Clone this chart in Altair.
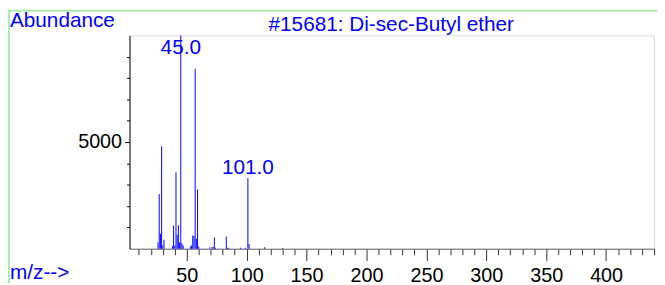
import altair as alt
import pandas as pd

# ---- data ----
mz = [26, 27, 28, 29, 30, 31, 38, 39, 40, 41, 42, 43, 44, 45, 46, 47,
      53, 54, 55, 56, 57, 58, 59, 60, 69, 71, 72, 73, 74, 83, 84, 85,
      95, 99, 101, 102, 115, 130]
abundance = [300, 2560, 700, 4800, 150, 420, 120, 1080, 150, 3580, 650, 1100, 300, 9999, 250, 150,
             100, 160, 620, 600, 8430, 460, 2780, 100, 60, 80, 80, 530, 40, 570, 40, 40,
             50, 40, 3310, 220, 70, 30]

label_mz = [45, 101]
label_pos = [9130, 3500]
label_text = ["45.0", "101.0"]

title_text = "#15681: Di-sec-Butyl ether"
y_title = "Abundance"
x_title = "m/z-->"

x_ticks = list(range(10, 441, 10))
x_major_step = 50
y_ticks = [1000, 2000, 3000, 4000, 5000, 6000, 7000, 8000, 9000]
y_major_step = 5000

FONT = "Liberation Sans"
BLUE = "#0000ff"
GREEN = "#a8eea8"

peaks = pd.DataFrame({"mz": mz, "ab": abundance})
labels = pd.DataFrame({"mz": label_mz, "ab": label_pos, "t": label_text})

xscale = alt.Scale(domain=[2.2, 440], nice=False, zero=False)
yscale = alt.Scale(domain=[0, 10000], nice=False)

x_major_test = f"datum.value % {x_major_step} === 0"
y_major_test = f"datum.value % {y_major_step} === 0"

x_axis = alt.Axis(
    values=x_ticks, tickCount=200, orient="bottom",
    tickSize={"condition": {"test": x_major_test, "value": 12}, "value": 6},
    labelExpr=f"{x_major_test} ? datum.label : ''",
    labelOverlap=False, labelPadding=5,
    labelFontSize=20, labelFont=FONT, labelColor="black",
    domainColor="#666666", tickColor="#333333", grid=False,
    title=None, format="d", labelFlush=False)
y_axis = alt.Axis(
    values=y_ticks, tickCount=200, orient="left",
    tickSize={"condition": {"test": y_major_test, "value": 5}, "value": 3},
    labelExpr=f"{y_major_test} ? datum.label : ''",
    labelOverlap=False, labelPadding=3,
    labelFontSize=20, labelFont=FONT, labelColor="black",
    domainColor="#000000", tickColor="#000000", grid=False,
    title=None, format="d")

bars = alt.Chart(peaks).mark_rule(color=BLUE, strokeWidth=1).encode(
    x=alt.X("mz:Q", scale=xscale, axis=x_axis),
    y=alt.Y("ab:Q", scale=yscale, axis=y_axis),
    y2=alt.datum(0),
)

peak_labels = alt.Chart(labels).mark_text(
    color=BLUE, font=FONT, fontSize=21, align="center", baseline="alphabetic"
).encode(
    x=alt.X("mz:Q", scale=xscale),
    y=alt.Y("ab:Q", scale=yscale),
    text="t:N",
)

def txt(s, x, y, align="left", size=21):
    return alt.Chart(pd.DataFrame({"t": [s]})).mark_text(
        color=BLUE, font=FONT, fontSize=size, align=align, baseline="alphabetic"
    ).encode(x=alt.value(x), y=alt.value(y), text="t:N")

title_mark = txt(title_text, 265, -4.5, align="center")
ytitle_mark = txt(y_title, -121, -8)
xtitle_mark = txt(x_title, -121, 247)

one = pd.DataFrame({"a": [0]})
green_top = alt.Chart(one).mark_rule(color=GREEN, strokeWidth=2).encode(
    x=alt.value(-123), x2=alt.value(534), y=alt.value(-25))
green_left = alt.Chart(one).mark_rule(color=GREEN, strokeWidth=2).encode(
    x=alt.value(-122), y=alt.value(-26), y2=alt.value(251))

chart = alt.layer(
    green_top, green_left, bars, peak_labels, title_mark, ytitle_mark, xtitle_mark
).properties(
    width=531, height=216,
    autosize=alt.AutoSizeParams(type="none"),
    padding={"left": 123, "top": 26, "right": 3, "bottom": 35},
).configure_view(stroke=None).configure(background="white")

chart.save("out.html", embed_options={"renderer": "svg", "actions": False})
